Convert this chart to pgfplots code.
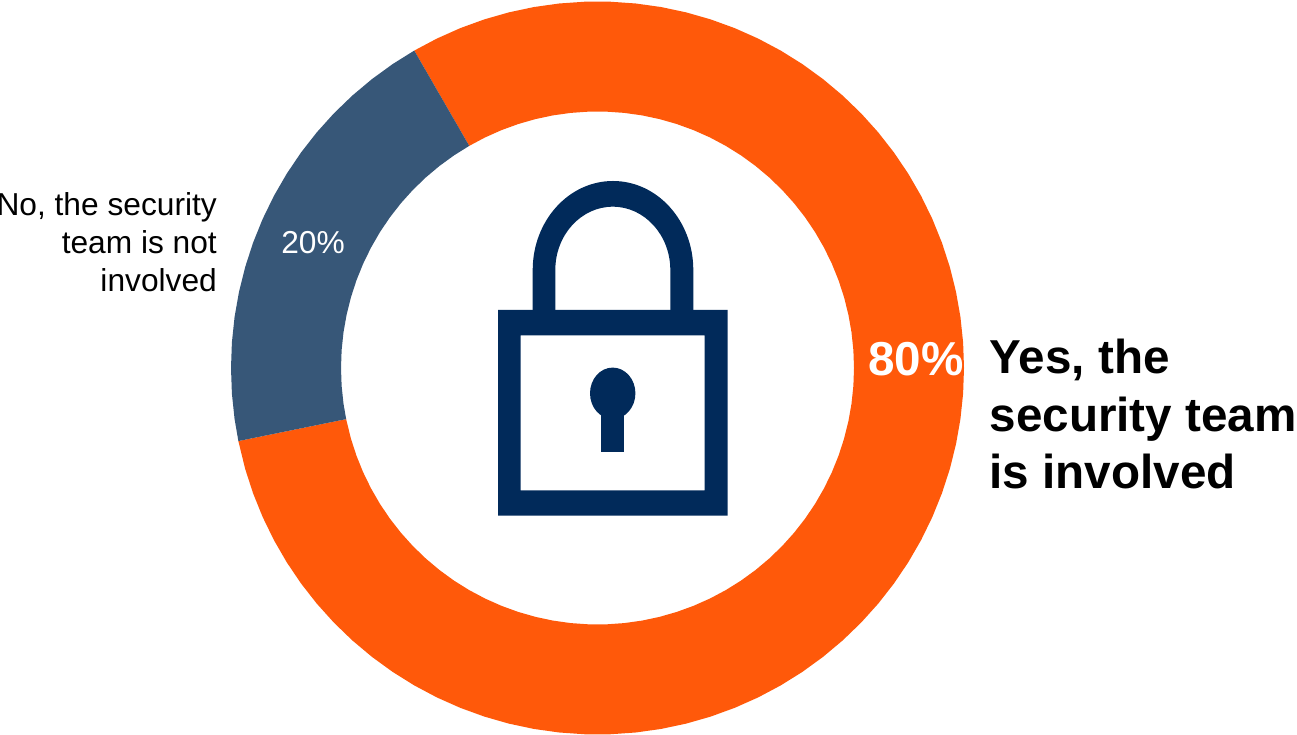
\documentclass[border=0pt]{standalone}
\usepackage{fontspec}
\usepackage{pgfplots}
\pgfplotsset{compat=1.18}
\setmainfont{Liberation Sans}
\definecolor{yesorange}{HTML}{FF590A}
\definecolor{noblue}{HTML}{375778}
\definecolor{locknavy}{HTML}{012A5A}
\newcommand{\labelfont}{\fontsize{31.7}{38}\selectfont}
\newcommand{\boldfont}{\fontsize{47.6}{58}\selectfont\bfseries}
\begin{document}
\begin{tikzpicture}
\path[use as bounding box] (0,0) rectangle (1297pt,735pt);
\begin{axis}[
  x=1pt, y=1pt,
  xmin=-597.5, xmax=699.5,
  ymin=-367, ymax=368,
  hide axis, clip=false, no marks,
  anchor=south west, at={(0,0)},
]
% Yes: about 80% of the ring, clockwise from 120 degrees round to 191.5 degrees (angle, radius)
\addplot[fill=yesorange, draw=none, data cs=polar] coordinates {
  (-168.5,366.5) (-164,366.5) (-160,366.5) (-156,366.5) (-152,366.5) (-148,366.5)
  (-144,366.5) (-140,366.5) (-136,366.5) (-132,366.5) (-128,366.5) (-124,366.5)
  (-120,366.5) (-116,366.5) (-112,366.5) (-108,366.5) (-104,366.5) (-100,366.5)
  (-96,366.5) (-92,366.5) (-88,366.5) (-84,366.5) (-80,366.5) (-76,366.5)
  (-72,366.5) (-68,366.5) (-64,366.5) (-60,366.5) (-56,366.5) (-52,366.5)
  (-48,366.5) (-44,366.5) (-40,366.5) (-36,366.5) (-32,366.5) (-28,366.5)
  (-24,366.5) (-20,366.5) (-16,366.5) (-12,366.5) (-8,366.5) (-4,366.5)
  (0,366.5) (4,366.5) (8,366.5) (12,366.5) (16,366.5) (20,366.5)
  (24,366.5) (28,366.5) (32,366.5) (36,366.5) (40,366.5) (44,366.5)
  (48,366.5) (52,366.5) (56,366.5) (60,366.5) (64,366.5) (68,366.5)
  (72,366.5) (76,366.5) (80,366.5) (84,366.5) (88,366.5) (92,366.5)
  (96,366.5) (100,366.5) (104,366.5) (108,366.5) (112,366.5) (116,366.5)
  (120,366.5)
  (120,256.5)
  (116,256.5) (112,256.5) (108,256.5) (104,256.5) (100,256.5) (96,256.5)
  (92,256.5) (88,256.5) (84,256.5) (80,256.5) (76,256.5) (72,256.5)
  (68,256.5) (64,256.5) (60,256.5) (56,256.5) (52,256.5) (48,256.5)
  (44,256.5) (40,256.5) (36,256.5) (32,256.5) (28,256.5) (24,256.5)
  (20,256.5) (16,256.5) (12,256.5) (8,256.5) (4,256.5) (0,256.5)
  (-4,256.5) (-8,256.5) (-12,256.5) (-16,256.5) (-20,256.5) (-24,256.5)
  (-28,256.5) (-32,256.5) (-36,256.5) (-40,256.5) (-44,256.5) (-48,256.5)
  (-52,256.5) (-56,256.5) (-60,256.5) (-64,256.5) (-68,256.5) (-72,256.5)
  (-76,256.5) (-80,256.5) (-84,256.5) (-88,256.5) (-92,256.5) (-96,256.5)
  (-100,256.5) (-104,256.5) (-108,256.5) (-112,256.5) (-116,256.5) (-120,256.5)
  (-124,256.5) (-128,256.5) (-132,256.5) (-136,256.5) (-140,256.5) (-144,256.5)
  (-148,256.5) (-152,256.5) (-156,256.5) (-160,256.5) (-164,256.5) (-168.5,256.5)
} -- cycle;
% No: about 20% of the ring, the remaining 71.5 degrees
\addplot[fill=noblue, draw=none, data cs=polar] coordinates {
  (120,366.5) (124,366.5) (128,366.5) (132,366.5) (136,366.5) (140,366.5)
  (144,366.5) (148,366.5) (152,366.5) (156,366.5) (160,366.5) (164,366.5)
  (168,366.5) (172,366.5) (176,366.5) (180,366.5) (184,366.5) (188,366.5)
  (191.5,366.5)
  (191.5,256.5)
  (188,256.5) (184,256.5) (180,256.5) (176,256.5) (172,256.5) (168,256.5)
  (164,256.5) (160,256.5) (156,256.5) (152,256.5) (148,256.5) (144,256.5)
  (140,256.5) (136,256.5) (132,256.5) (128,256.5) (124,256.5) (120,256.5)
} -- cycle;

% Padlock icon in the middle of the ring
\fill[locknavy, even odd rule]
  (-99.5,-147.7) rectangle (130.2,58)
  (-76.8,-122.3) rectangle (107.2,32.7);
\fill[locknavy]
  (-64.8,50) -- (-64.8,98)
  arc[start angle=180, end angle=0, x radius=80.3, y radius=89]
  -- (95.8,50) -- (72.8,50) -- (72.8,98)
  arc[start angle=0, end angle=180, x radius=57.5, y radius=63.3]
  -- (-42.2,50) -- cycle;
\fill[locknavy] (15.2,-25.3) ellipse[x radius=22.7, y radius=25.7];
\fill[locknavy] (3.8,-40) rectangle (26.8,-83.7);

% Category labels, one node per line
\node[anchor=base east, inner sep=0pt, text=black] at (-380.5,152.3) {\labelfont No, the security};
\node[anchor=base east, inner sep=0pt, text=black] at (-380.5,114.6) {\labelfont team is not};
\node[anchor=base east, inner sep=0pt, text=black] at (-380.5,76.3) {\labelfont involved};
\node[anchor=base west, inner sep=0pt, text=black] at (392,-6) {\boldfont Yes, the};
\node[anchor=base west, inner sep=0pt, text=black] at (392,-63.7) {\boldfont security team};
\node[anchor=base west, inner sep=0pt, text=black] at (392,-121) {\boldfont is involved};

% Value labels inside the ring
\node[anchor=base, inner sep=0pt, text=white] at (-284.5,114.3) {\labelfont 20\%};
\node[anchor=base, inner sep=0pt, text=white] at (318.5,-8) {\boldfont 80\%};
\end{axis}
\end{tikzpicture}
\end{document}
